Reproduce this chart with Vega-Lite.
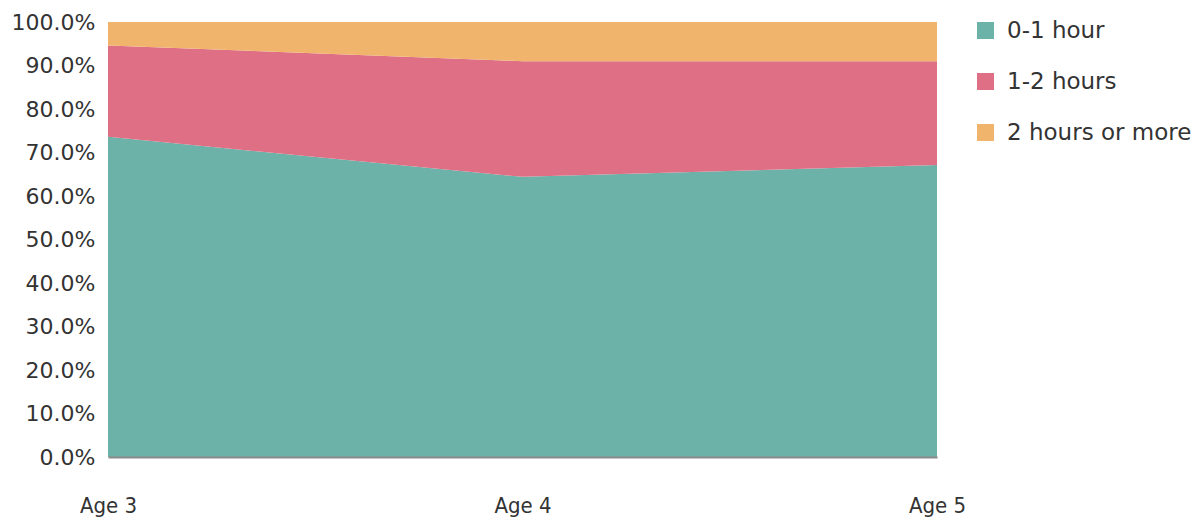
{
  "$schema": "https://vega.github.io/schema/vega-lite/v6.json",
  "width": 829,
  "height": 435,
  "autosize": "none",
  "padding": {"left": 108, "top": 22, "right": 260, "bottom": 62},
  "background": "white",
  "config": {"view": {"stroke": null}, "font": "DejaVu Sans", "normalizedNumberFormat": ".1%"},
  "data": {"values": [
    {"age": "Age 3", "time": "0-1 hour", "ord": 1, "pct": 73.6},
    {"age": "Age 3", "time": "1-2 hours", "ord": 2, "pct": 21.0},
    {"age": "Age 3", "time": "2 hours or more", "ord": 3, "pct": 5.4},
    {"age": "Age 4", "time": "0-1 hour", "ord": 1, "pct": 64.4},
    {"age": "Age 4", "time": "1-2 hours", "ord": 2, "pct": 26.6},
    {"age": "Age 4", "time": "2 hours or more", "ord": 3, "pct": 9.0},
    {"age": "Age 5", "time": "0-1 hour", "ord": 1, "pct": 67.1},
    {"age": "Age 5", "time": "1-2 hours", "ord": 2, "pct": 23.9},
    {"age": "Age 5", "time": "2 hours or more", "ord": 3, "pct": 9.0}
  ]},
  "mark": {"type": "area", "opacity": 1},
  "encoding": {
    "x": {"field": "age", "type": "ordinal", "scale": {"type": "point", "padding": 0},
      "axis": {"title": null, "labelAngle": 0, "ticks": false, "grid": false, "zindex": 1,
        "domainColor": "#8a8a8a", "domainWidth": 2, "labelFontSize": 22,
        "labelFont": "DejaVu Sans Condensed", "labelColor": "#333", "labelPadding": 48,
        "labelBaseline": "middle"}},
    "y": {"field": "pct", "type": "quantitative", "stack": "normalize",
      "scale": {"domain": [0, 1]},
      "axis": {"title": null, "labelExpr": "format(datum.value, '.1%')", "values": [0,0.1,0.2,0.3,0.4,0.5,0.6,0.7,0.8,0.9,1],
        "grid": false, "domain": false, "ticks": false, "labelFontSize": 22,
        "labelFont": "DejaVu Sans", "labelColor": "#333", "labelPadding": 13}},
    "color": {"field": "time", "type": "nominal",
      "scale": {"domain": ["0-1 hour", "1-2 hours", "2 hours or more"], "range": ["#6CB2A8", "#DF6F85", "#F0B46C"]},
      "legend": {"title": null, "orient": "none", "legendX": 866, "legendY": -3,
        "symbolType": "square", "symbolSize": 289, "symbolStrokeWidth": 0, "symbolOpacity": 1, "labelLimit": 400,
        "labelFont": "DejaVu Sans", "labelFontSize": 23, "labelColor": "#333", "labelOffset": 10, "rowPadding": 27}},
    "order": {"field": "ord", "type": "quantitative", "sort": "ascending"}
  }
}
